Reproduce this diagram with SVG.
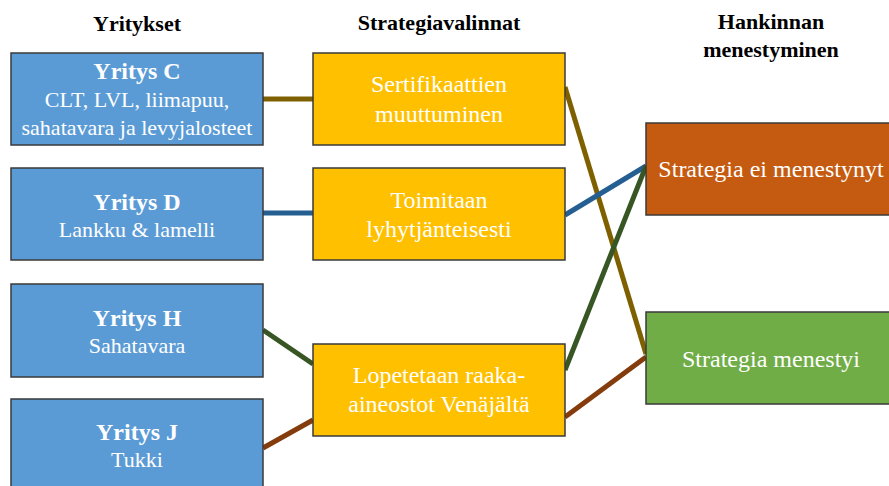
<svg xmlns="http://www.w3.org/2000/svg" width="889" height="486" viewBox="0 0 889 486">
  <style>
    text { font-family: "Liberation Serif", Tinos, "Times New Roman", Times, serif; text-anchor: middle; }
    .hdr { font-size: 22px; font-weight: bold; fill: #000; }
    .ttl { font-size: 24px; font-weight: bold; fill: #fff; }
    .txt { font-size: 22px; fill: #fff; }
    .big { font-size: 24px; fill: #fff; }
    .box { stroke: #3a3a3a; stroke-width: 1.5; }
    .firm { fill: #5B9BD5; }
    .strat { fill: #FFC000; }
    .fail { fill: #C55A11; }
    .ok { fill: #70AD47; }
    .link { fill: none; stroke-width: 5; stroke-linecap: butt; }
  </style>

  <!-- column headings -->
  <g id="headers">
    <text class="hdr" x="137" y="31">Yritykset</text>
    <text class="hdr" x="439" y="30">Strategiavalinnat</text>
    <text class="hdr" x="771" y="29">Hankinnan</text>
    <text class="hdr" x="771" y="57">menestyminen</text>
  </g>

  <!-- connectors -->
  <g id="connectors">
    <line class="link" stroke="#7F6000" x1="263" y1="99" x2="313" y2="99"/>
    <line class="link" stroke="#255E91" x1="263" y1="213" x2="313" y2="213"/>
    <line class="link" stroke="#375623" x1="263" y1="330" x2="313" y2="364"/>
    <line class="link" stroke="#843C0C" x1="263" y1="448" x2="313" y2="420"/>
    <line class="link" stroke="#7F6000" x1="565" y1="87" x2="646" y2="354"/>
    <line class="link" stroke="#255E91" x1="565" y1="215" x2="646" y2="166"/>
    <line class="link" stroke="#375623" x1="565" y1="370" x2="646" y2="166"/>
    <line class="link" stroke="#843C0C" x1="565" y1="417" x2="646" y2="357"/>
  </g>

  <!-- companies -->
  <g id="yritys-c">
    <rect class="box firm" x="11" y="53" width="252" height="92"/>
    <text class="ttl" x="137" y="79">Yritys C</text>
    <text class="txt" x="137" y="107">CLT, LVL, liimapuu,</text>
    <text class="txt" x="137" y="135">sahatavara ja levyjalosteet</text>
  </g>
  <g id="yritys-d">
    <rect class="box firm" x="11" y="168" width="252" height="92"/>
    <text class="ttl" x="137" y="210">Yritys D</text>
    <text class="txt" x="137" y="237">Lankku &amp; lamelli</text>
  </g>
  <g id="yritys-h">
    <rect class="box firm" x="11" y="284" width="252" height="93"/>
    <text class="ttl" x="137" y="326">Yritys H</text>
    <text class="txt" x="137" y="353">Sahatavara</text>
  </g>
  <g id="yritys-j">
    <rect class="box firm" x="11" y="399" width="252" height="92"/>
    <text class="ttl" x="137" y="440">Yritys J</text>
    <text class="txt" x="137" y="467">Tukki</text>
  </g>

  <!-- strategy choices -->
  <g id="sertifikaatit">
    <rect class="box strat" x="313" y="53" width="252" height="92"/>
    <text class="big" x="439" y="92">Sertifikaattien</text>
    <text class="big" x="439" y="122">muuttuminen</text>
  </g>
  <g id="lyhytjanteisesti">
    <rect class="box strat" x="313" y="168" width="252" height="92"/>
    <text class="big" x="439" y="208">Toimitaan</text>
    <text class="big" x="439" y="237">lyhytjänteisesti</text>
  </g>
  <g id="venaja">
    <rect class="box strat" x="313" y="344" width="252" height="92"/>
    <text class="big" x="439" y="383">Lopetetaan raaka-</text>
    <text class="big" x="439" y="412">aineostot Venäjältä</text>
  </g>

  <!-- outcomes -->
  <g id="ei-menestynyt">
    <rect class="box fail" x="646" y="123" width="252" height="92"/>
    <text class="big" x="771" y="177">Strategia ei menestynyt</text>
  </g>
  <g id="menestyi">
    <rect class="box ok" x="646" y="312" width="252" height="92"/>
    <text class="big" x="771" y="367">Strategia menestyi</text>
  </g>
</svg>
